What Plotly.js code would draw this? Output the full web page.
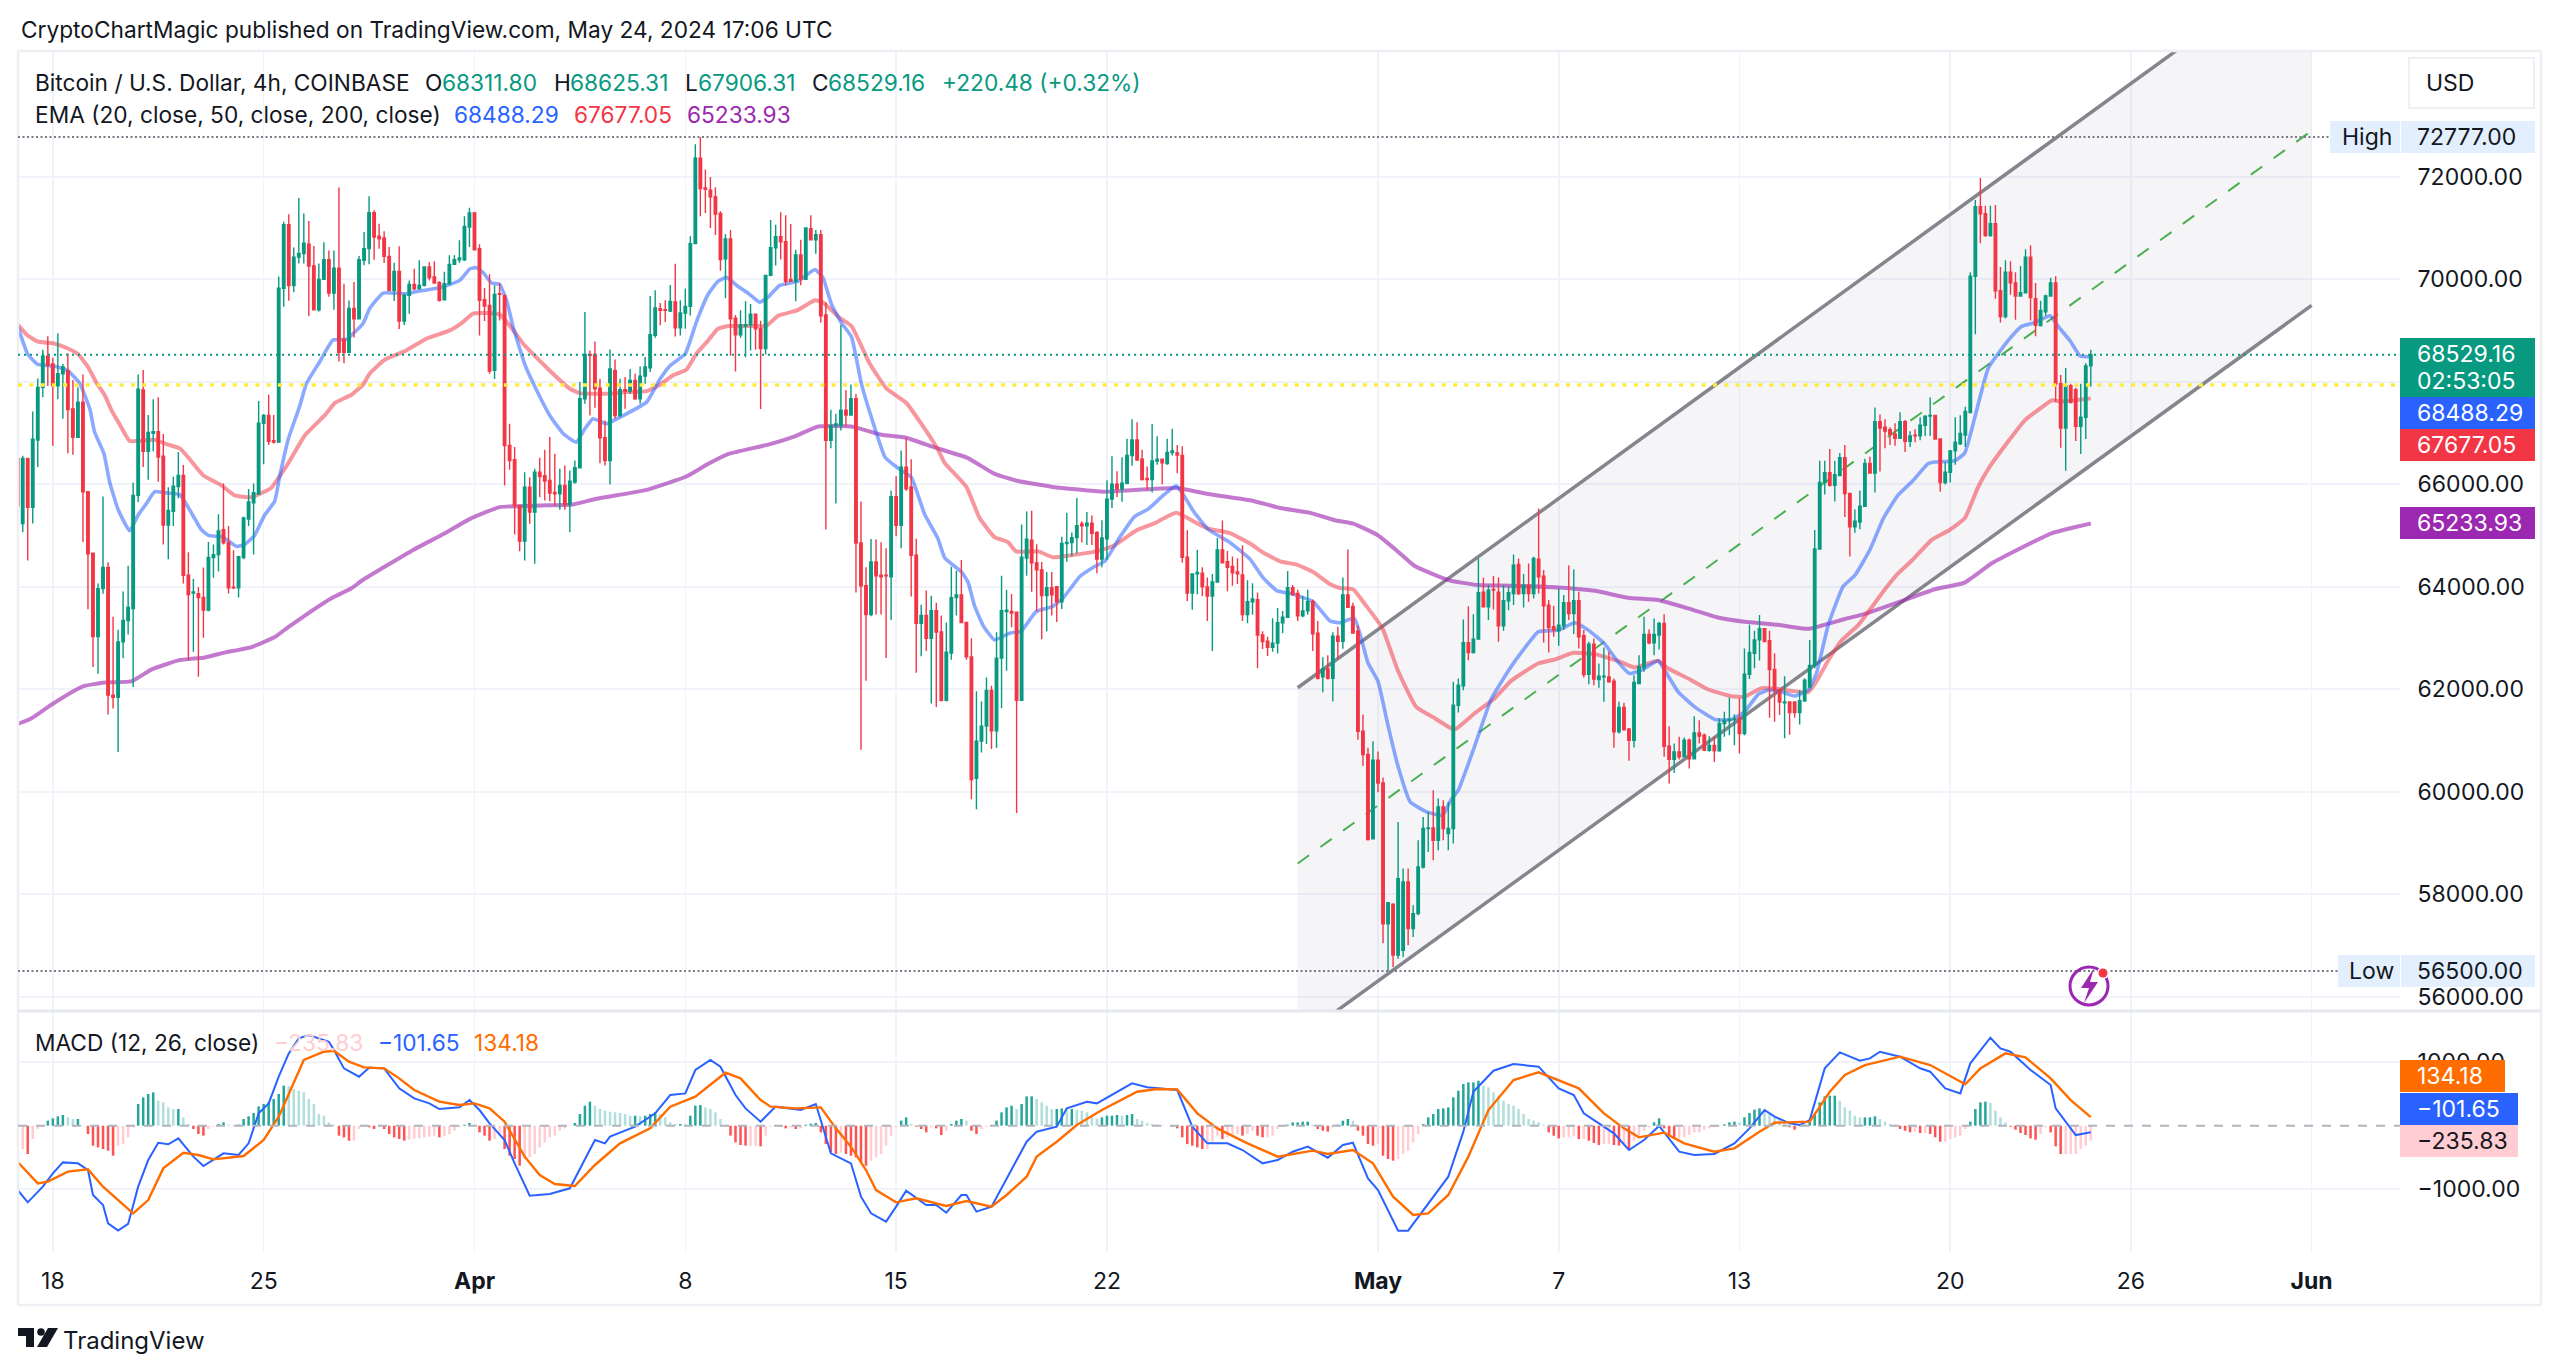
<!DOCTYPE html>
<html>
<head>
<meta charset="utf-8">
<script src="https://cdn.plot.ly/plotly-3.0.1.min.js"></script>
<style>html,body{margin:0;padding:0;background:#fff}#chart{width:2560px;height:1372px}</style>
</head>
<body>
<div id="chart"></div>
<script>
// 4h candles, first candle is 16 Mar 20:00 UTC
const opens = [66506,
65235,66506,65553,66866,67892,68498,68347,67921,68159,68217,
67473,66917,67603,65856,64657,63026,63964,64376,61885,61841,
62925,63343,63574,65784,67841,66643,66997,67026,66549,65206,
65473,65957,66173,64224,63878,63863,63791,63545,64571,64628,
65112,64859,63993,63979,64571,65322,65639,65812,67191,67343,
66852,66823,69827,71069,69877,70433,70505,70686,70260,69408,
70000,70383,69733,70217,68830,68578,69430,69228,70371,70599,
71302,70840,70807,70449,69785,70156,69186,69688,69902,69818,
69883,70241,70046,69941,69603,69915,70293,70384,70384,71022,
71296,70599,69603,69492,68223,69720,69675,66758,66478,65586,
64890,65944,65456,66237,66166,66075,65840,65814,65977,65606,
66042,66322,67670,68535,68535,67878,66908,66465,68223,67344,
67845,67819,68028,67670,68112,68275,68906,69427,69408,69382,
69557,69056,69342,69473,70697,72363,71784,71740,71610,71288,
70401,70787,69244,68919,69089,69112,69321,69035,68650,70077,
70617,70833,70733,69999,69961,70478,69999,70987,70771,70872,
69305,66859,67145,67145,67446,67353,67670,64853,64020,63457,
64483,64228,64228,64197,65756,65200,66335,65949,64614,63287,
63441,62994,63534,63117,61782,62708,63788,63842,63302,62631,
60262,60988,61281,61975,61188,62608,63518,63518,63503,61782,
64560,64907,64467,64329,63827,63981,64000,63709,64844,64865,
64959,65227,65190,65241,65060,64540,64938,65711,66000,65913,
66021,66563,66867,66491,66115,66094,66455,66491,66404,66621,
66614,66563,64576,63876,64251,64266,63998,63818,64092,64721,
64490,64396,64287,64230,63456,63709,63746,63059,62936,62821,
62900,63298,63406,63984,63868,63435,63529,63709,63095,62243,
62394,62214,63037,62936,63839,63615,63131,61181,60725,59079,
60617,60169,57423,57806,56810,56904,58239,57328,57620,58532,
59281,59294,59053,59704,59183,59281,61689,62066,62906,62718,
62978,63896,63610,63948,63896,63238,63727,63870,64436,63870,
64033,63870,64540,64208,63642,63219,63141,63238,63688,63479,
63727,63043,62294,62880,62190,62242,62242,62158,61168,61643,
61227,61005,62112,62418,63069,62906,63056,63284,60888,60634,
60778,60680,61005,60641,61149,61103,60810,60901,60797,61331,
61396,61409,61442,61136,62292,62701,62963,63180,62948,62385,
61984,61737,61752,61752,61544,61775,62045,62462,64738,66034,
66227,65980,66173,66520,65818,65170,65263,65571,66405,66220,
67223,67115,67068,66976,66899,67223,66837,66960,66945,67153,
67331,67346,66883,66034,66235,66652,66791,66960,67400,70062,
71420,71281,70857,71088,69777,69275,70139,69931,69676,69738,
70432,69622,69097,69368,69676,69931,67963,67099,67925,67848,
67130,67308,68311.80];
const highs = [66881,
66556,66520,67423,68065,68628,68888,68469,68946,68347,68556,
68036,67892,68145,65870,64657,64065,65762,64477,63415,63163,
63906,64412,66029,68145,68231,67351,67661,67697,66982,65942,
66145,66628,66376,64672,64152,63993,64376,64874,64823,65415,
66015,65184,64715,64607,65365,65906,66015,67625,67372,67747,
67351,70058,71126,71271,70621,71588,71285,71141,70650,70310,
70722,70563,70563,71791,69913,69589,69950,70455,70924,71621,
71348,71087,70937,70632,70326,70644,69720,69980,70208,70371,
70241,70332,70352,69961,70150,70469,70469,70762,71230,71400,
71315,70684,69831,70098,69883,69928,69707,67181,66726,65586,
66237,66140,66302,66517,66673,66921,66595,66302,66367,66270,
66465,67995,69362,68613,68789,68060,67246,68633,68438,68060,
68093,68249,68158,68301,68483,69675,69785,69538,69590,69889,
70306,69590,69818,70840,72637,72777,72142,72000,71800,71327,
70887,70964,69305,69398,69575,69521,69321,69190,70092,71157,
71065,71312,71250,71080,70579,70771,71018,71250,70964,70964,
69552,67454,67376,69112,67839,67947,67762,65663,64383,64930,
64923,64869,64753,65872,66157,66659,66914,66489,64938,63650,
63927,63827,63688,63441,63302,64390,64313,64522,63302,62994,
61960,61759,62230,62068,63110,64213,63943,63858,63503,65216,
65470,65486,64830,64483,64290,64290,64000,64974,65443,65060,
65732,65277,65458,65393,65082,65299,66079,66549,66253,66527,
66888,67271,67213,66672,66347,67177,66939,66491,66888,67083,
66766,66744,65104,64266,64721,64381,64179,64251,64952,65292,
64699,64591,64555,64808,64128,64071,63890,63131,63023,63384,
63587,63529,64309,64035,63941,63818,63941,63746,63334,62626,
62662,63110,63218,64179,64728,63688,63240,61506,60856,60986,
60783,60278,57835,57821,59411,58499,58499,57783,59053,59508,
59606,60029,59866,59834,59800,62145,62210,63362,63622,63466,
64553,64176,64033,64208,64182,64033,64000,64632,64553,64247,
64456,64586,65530,64326,63740,63629,63968,63837,64417,64339,
63902,63154,62926,62991,62503,62815,62731,62210,61754,61735,
61227,62275,62665,63414,63167,63382,63316,63466,61279,60940,
61071,61058,61038,61474,61396,61136,61084,61071,61429,61559,
61839,61513,61819,62793,63257,63141,63450,63180,63141,62701,
61984,62253,61752,61752,61984,62215,62963,65109,66459,66459,
66690,66459,66613,66767,65841,65510,65880,66497,66536,67500,
67361,67269,67115,67192,67408,67253,67037,67076,67308,67346,
67693,67346,66899,66436,66667,67308,67346,67516,70139,71551,
71976,71436,71436,71451,70240,70371,70355,70139,70263,70587,
70664,69931,69584,69699,70031,70062,68133,68272,67963,67886,
67963,68365,68625.31];
const lows = [65581,
65062,64513,65235,66340,67697,67921,66751,67661,67278,66607,
66578,66917,64874,63560,62434,62304,63863,61509,61625,60773,
62607,63069,62044,65654,66340,66087,66643,66051,64823,64535,
65184,65726,64065,62563,62730,62246,63004,63524,64174,64296,
64823,63870,63957,63791,64535,65184,64628,65812,66390,66765,
66794,66823,69466,69581,69747,70310,70310,69285,69394,69372,
69986,69661,69408,68397,68361,68578,68866,69228,70273,70293,
70384,70599,70319,69772,69577,69030,69108,69330,69785,69805,
69863,69980,69915,69570,69590,69896,70293,70319,70358,70632,
70566,68906,69186,68158,68054,69199,65977,66283,65020,64694,
64512,65228,64447,65749,65684,65671,65586,65502,65502,65065,
66009,66322,67572,67344,67494,66413,66368,65997,67279,67311,
67474,67767,67650,67572,67962,68190,68861,69102,69167,69362,
68887,68906,69037,69297,70684,71230,71296,71000,70864,70170,
69629,68511,68202,68858,68480,68611,68626,67469,68534,70061,
70270,70386,69884,69961,69575,69884,69999,70756,70501,69151,
65116,66705,65625,67052,67129,67338,63889,60818,62168,63426,
63457,63457,62608,63349,64984,64753,65872,63811,62322,62646,
62747,61721,61651,61759,61759,62577,63441,63287,62577,59853,
59660,60764,60933,60833,60856,61628,62361,63210,59583,61782,
64213,63904,63518,62978,63133,63441,63312,63565,64490,64598,
64649,64865,64815,64815,64266,64381,64526,65537,65754,65660,
66000,66361,66455,66072,65891,65841,66383,66000,66383,66563,
66216,64468,63724,63550,63854,63818,63334,62748,64092,64454,
63912,64020,64056,63334,63290,63456,62409,62785,62647,62734,
62698,63095,63406,63818,63334,63406,63456,62748,62192,61939,
62192,61759,62590,62792,63601,63081,61014,60509,59049,59079,
59989,57041,56500,56578,56740,56774,57002,57165,57588,58500,
58825,58662,58857,59053,58857,58988,61546,61982,62568,62698,
62972,63596,63349,63557,62926,63141,63544,63642,63837,63596,
63707,63772,63870,62913,62718,63024,62848,63154,63349,63076,
62796,62229,62099,62080,62028,61754,62125,60856,61136,61188,
60602,60862,62099,62340,62880,62665,62776,60680,60159,60367,
60628,60680,60452,60628,60940,60797,60778,60582,60778,61071,
61103,60908,60745,61100,62200,62408,62562,62925,61444,61366,
61497,61042,61112,61444,61312,61752,62045,62408,64738,65803,
65957,65664,66173,65363,64591,65054,65124,65571,66204,65841,
66250,66706,66767,66752,66883,66628,66729,66821,66860,66945,
66945,66868,65857,65996,66034,66382,66767,66729,67385,68928,
70703,70834,70834,69622,69159,69236,69699,69213,69661,69723,
69198,68889,69082,69290,69661,67616,66713,66266,67578,66845,
66590,66883,67906.31];
const closes = [65581,
66506,65553,66881,67892,68498,68325,67921,68159,68290,67459,
66917,67603,65856,64643,63026,63964,64376,61885,61841,62925,
63343,63596,65784,67856,66643,67011,67026,66534,65206,65488,
65964,66173,64224,63849,63899,63791,63545,64571,64628,65091,
64859,63979,63979,64585,65343,65654,65834,67191,67343,66838,
66823,69827,71069,69877,70433,70505,70708,70260,69408,70000,
70383,69733,70217,68578,68578,69430,69228,70383,70599,71302,
70827,70794,70449,69785,70156,69186,69688,69902,69818,69883,
70241,70033,69928,69590,69915,70293,70384,70417,71035,71296,
70579,69590,69479,68210,69707,69707,66758,66465,65586,64890,
65944,65456,66237,66153,66062,65827,65814,65977,65606,66062,
66322,67670,68535,68516,67865,66908,66465,68249,67344,67845,
67819,68028,67670,68112,68288,68919,69440,69395,69395,69570,
69056,69342,69473,70697,72363,71771,71758,71610,71273,70386,
70787,69228,68919,69112,69112,69321,69035,68650,70077,70617,
70833,70733,69961,69961,70478,69999,71003,70771,70872,69290,
66859,67145,67176,67446,67353,67670,64853,64020,63457,64483,
64213,64197,64213,65756,65200,66335,65910,64614,63287,63441,
62994,63534,63117,61782,62724,63788,63842,63302,62631,60239,
60988,61281,61975,61188,62608,63534,63542,63487,61782,64575,
64930,64467,64329,63827,63981,63842,63709,64844,64865,64959,
65190,65190,65241,65046,64540,64952,65711,66000,65913,66021,
66563,66867,66477,66094,66094,66455,66491,66419,66621,66650,
66570,64576,63876,64251,64280,63998,63818,64092,64721,64468,
64381,64273,64251,63456,63709,63760,63059,62929,62821,62900,
63298,63406,63984,63854,63435,63529,63709,63081,62214,62394,
62214,63037,62936,63839,63601,63095,61181,60725,59064,60617,
60169,57423,57835,56810,58304,58239,57328,57620,58532,59281,
59294,59053,59704,59281,59281,61689,62080,62906,62718,62978,
63883,63610,63935,63935,63238,63727,63883,64423,63870,64033,
63870,64553,64195,63629,63206,63154,63251,63688,63479,63727,
63024,62288,62880,62197,62255,62255,62145,61168,61643,61214,
61005,62132,62438,63069,62906,63069,63284,60888,60634,60778,
60680,61005,60641,61149,61084,60810,60901,60797,61331,61396,
61409,61422,61136,62292,62717,62963,63180,62933,62385,61984,
61752,61752,61544,61544,61775,62176,62462,64738,66034,66227,
65980,66189,66520,65818,65170,65278,65571,66405,66220,67223,
67099,67037,66976,66899,67223,66837,66945,66945,67153,67331,
67346,66883,66034,66235,66652,66821,66991,67423,70062,71420,
71281,70857,71088,69777,69275,70139,69931,69676,69738,70432,
69645,69105,69391,69676,69931,67963,67099,67925,67601,67130,
67308,68311,68529.16];

// EMA readings: bar number (0 = 17 Mar 00:00 UTC) and price
const ema20Bars = [-1,1,3,6.4,9,11.4,13.4,14.3,16.2,17.3,19,21.3,23,24.6,26.3,28.3,31.3,33,35.6,37,39.9,42.6,44.2,46.2,48.2,50.2,51.2,52.9,55.2,56.5,59.2,61.8,64.5,67.8,69.1,71.8,76.4,79.1,83.1,87.1,89.1,90.4,91.8,93.4,95,96.4,97.7,100.1,102.4,105,107.7,110.3,112,113.6,116.3,120.3,124.3,127,129,132,134.2,136.5,138.5,140.2,142.2,144.8,146.8,148.5,150.8,154.4,157.8,159.4,161.1,163.1,165.1,167.1,169.1,171.8,174.4,177,179.7,182.3,183.7,187,188.3,189.6,191.3,193.6,196.6,198.9,201.9,205.2,207.3,210.6,213.3,215.6,218.6,221.5,224.2,227.2,229.8,231.5,233.2,236.2,240.5,244.5,247.1,249.8,253.1,257.1,260.4,262.4,265.3,268,270,272,274,276.4,279.7,282.9,284.5,286,289.2,292.6,296.5,298.9,301.9,305.9,309.2,311.9,315.1,317.8,320.1,322.5,325.8,327.1,329.8,333.1,337.1,340.4,343,345.8,347.8,350.4,353,355.7,357.4,359.7,362.7,365,368,370.7,373.6,376.6,379.6,380.9,384.9,386.9,388.9,391.6,395.6,398.2,400.9,403.9,405.5,407.9,409.9,412];
const ema20Values = [69083,68541,68340,68303,68217,67964,67459,67025,66592,66051,65509,65091,65401,65618,65856,65834,65798,65545,65112,65004,64968,64787,64823,65004,65401,65668,66159,66881,67531,67964,68397,68816,68830,69140,69427,69733,69720,69772,69837,69980,70208,70228,70124,69928,69902,69590,69069,68320,67832,67344,66986,66823,67084,67279,67181,67376,67604,68060,68320,68548,69167,69700,69961,70038,69884,69707,69552,69653,69884,69961,70193,70038,69521,69151,68881,67955,67299,66527,66312,66142,65409,64946,64560,64290,64097,63634,63248,62963,63094,63133,63518,63617,63782,64201,64381,64504,64974,65371,65516,65783,65971,65754,65480,65118,64865,64540,64179,63926,63854,63709,63334,63298,63384,62517,62156,61289,60490,59801,59606,59541,59834,60029,60875,61819,62438,62763,63121,63154,63297,63154,62893,62535,62308,62373,62555,62373,61949,61656,61409,61409,61559,61906,61984,61945,61868,61984,62331,63257,64013,64221,64723,65340,65788,66073,66405,66436,66459,66613,67308,68272,68812,69082,69159,69291,69082,68797,68503,68488.29];
const ema50Bars = [-1,1,3,6.4,9,11,13,14.7,16.3,17.7,19.3,21.3,23,26.3,29,31.3,33,36,39.6,42.2,45.6,49.5,51.2,52.9,56.2,60.2,62.2,65.5,67.8,69.1,72.1,76.4,80.4,85.1,87.7,89.7,92.3,95,97,99.7,103.6,106.7,109,111,116.6,120.3,124.3,127,129.5,132.2,134.2,136.5,138.5,140.5,145.8,148.1,150.5,154.4,157.8,159.4,162.8,165.1,168.7,172,176,179,182.3,183.7,188,190.6,193.6,196.3,197.9,202.3,205.2,208.6,213.6,217.2,221.9,225.2,229.8,233.5,236.2,240.5,244.5,247.1,250.5,253.8,257.1,260.4,262.4,265.1,267.4,270.8,274,277.6,281.4,285.2,289.2,293.2,296.5,301.9,305.2,308.9,313.2,317.8,321.1,325.8,327.8,331.8,335.8,340.4,343,346.4,349.7,353,355.7,357,359.7,362.3,365.7,371,373.6,376.3,380.3,383.6,386.9,389.6,391.6,395.6,398.9,402.2,404.2,406.2,412];
const ema50Values = [69119,68903,68787,68744,68650,68542,68289,67978,67747,67444,67170,66845,66845,66867,66773,66700,66520,66173,65979,65784,65747,65928,66159,66412,66953,67350,67588,67747,67945,68158,68431,68613,68841,69004,69167,69330,69342,69316,69102,68744,68353,68060,67865,67780,67767,67800,67819,67949,68125,68236,68548,68800,69035,69089,69089,69089,69290,69398,69591,69552,69244,69089,68364,67878,67592,67183,66682,66412,65949,65347,64969,64869,64691,64691,64576,64612,64685,64793,65104,65227,65443,65263,65133,65046,64844,64670,64497,64432,64287,64056,63977,63948,63659,63204,62355,61657,61429,61214,61526,61819,62164,62503,62581,62711,62685,62555,62425,62555,62405,62210,61995,61865,61852,62022,62006,61960,61945,62099,62562,62948,63257,63951,64260,64507,64916,65093,65340,65957,66304,66844,67253,67500,67639,67616,67677.05];
const ema200Bars = [-1,1.7,5.7,11,12.3,16.3,21.6,25.6,31,36.3,40.2,45.6,50.2,52.9,57.5,61.5,65.5,67.8,77.8,83.9,89.1,95,103,109.6,114.3,124.3,132.2,136.5,140.5,148.5,153.8,158.5,165.1,171.1,175.8,181.7,188.3,193.6,198.3,205.2,215.2,219.8,229.8,236.5,245.2,250.5,256.5,261.4,265.2,269.9,274,277.3,284,289.9,296.5,305.9,313.2,319.8,325.8,331.8,337.7,343,349.7,355.7,363,366.3,374.3,380.9,386.9,392.2,398.2,404.3,412];
const ema200Values = [61322,61430,61697,62008,62065,62130,62152,62383,62563,62621,62715,62823,63018,63213,63524,63776,63971,64137,64720,65033,65326,65554,65586,65606,65717,65892,66153,66395,66589,66775,66937,67129,67129,66967,66914,66720,66512,66204,66065,65949,65855,65877,65927,65805,65675,65537,65443,65299,65227,65010,64684,64404,64130,64033,64020,63987,63922,63785,63740,63577,63401,63318,63257,63179,63372,63450,63720,63951,64082,64453,64761,65047,65233.93];

// MACD readings
const macdBars = [-1,1,4,6,8,11,13,14,16,17,19,21,23,25,27,29,31,34,36,38,40,43,45,47,49,51,53,55,57,61,62,64,67,69,72,75,78,81,83,87,89,91,93,96,98,101,105,109,112,114,116,117,122,126,129,132,134,137,139,142,144,147,150,155,158,161,165,167,169,172,174,176,180,182,184,187,188,190,193,197,200,202,206,208,212,214,221,224,230,233,236,240,243,247,250,253,256,260,263,265,268,270,274,276,280,284,287,289,293,297,302,306,309,311,314,317,320,323,326,330,333,337,341,344,347,349,352,354,356,359,362,366,368,370,374,378,380,383,386,388,392,394,396,400,404,405,409,412];
const macdValues = [-1011,-1205,-959,-749,-577,-592,-697,-1090,-1247,-1535,-1650,-1545,-959,-540,-268,-293,-199,-487,-634,-540,-435,-461,-278,194,351,771,1137,1373,1425,1320,1189,901,770,912,901,587,430,351,262,288,403,246,37,-225,-592,-1100,-1074,-985,-540,-225,-278,-173,-16,194,482,508,875,1033,927,482,272,63,299,246,341,-435,-592,-1116,-1378,-1509,-1273,-1022,-1247,-1247,-1368,-1090,-1090,-1352,-1273,-697,-252,-94,-16,273,377,351,666,603,561,-16,-278,-278,-383,-592,-540,-409,-330,-503,-304,-268,-828,-1012,-1650,-1650,-1223,-802,-94,534,864,969,928,587,482,194,37,-121,-383,-225,-5,-409,-461,-445,-278,-42,246,142,37,10,89,901,1153,1022,1058,1163,1085,902,849,587,508,980,1383,1216,1163,875,639,272,-147,-101.65];
const signalBars = [-1,3,5,9,13,16,22,25,28,32,35,38,44,48,51,54,56,60,62,65,68,72,75,78,83,87,90,93,96,100,103,106,110,114,119,125,129,134,140,143,147,149,154,159,162,165,168,170,174,178,184,188,193,196,200,202,206,210,215,222,226,230,234,238,244,250,257,260,265,269,273,277,280,284,288,292,297,302,306,310,315,319,322,327,331,337,341,346,349,356,360,363,367,374,380,387,390,395,399,404,408,412];
const signalValues = [-571,-907,-880,-723,-687,-959,-1378,-1169,-671,-425,-461,-530,-477,-225,141,666,1033,1163,1179,1006,917,901,744,561,377,325,351,272,63,-487,-775,-917,-949,-618,-278,-42,299,456,833,744,404,299,272,288,-42,-330,-697,-1012,-1205,-1142,-1263,-1184,-1273,-1090,-802,-487,-252,10,246,534,576,571,194,-42,-278,-487,-393,-445,-383,-592,-1116,-1404,-1378,-1090,-487,246,718,838,718,587,194,-42,-183,-110,-278,-409,-356,-94,47,63,534,796,953,1085,953,650,901,1137,1074,744,403,134.18];
const histogram = [-367,
-367,-445,-210,-52,-16,79,115,147,168,131,
105,105,5,-131,-314,-341,-367,-393,-472,-314,
-288,-183,-26,341,445,498,524,393,367,288,
262,262,131,26,-52,-131,-157,-52,-16,26,
52,16,10,16,105,147,199,304,341,367,
419,498,629,618,576,550,524,419,341,183,
157,52,16,-157,-183,-236,-236,-52,-16,-26,
-52,-26,-52,-131,-183,-210,-236,-220,-210,-199,
-183,-173,-157,-183,-157,-131,-79,-26,16,42,
0,-105,-157,-236,-210,-157,-367,-472,-524,-629,
-524,-498,-445,-341,-262,-183,-157,-79,-42,-10,
42,183,314,377,314,262,236,220,210,199,
183,157,157,147,157,183,210,183,131,52,
26,26,16,157,314,325,288,262,210,105,
16,-157,-262,-304,-314,-314,-314,-325,-157,-16,
0,-16,-42,-26,-52,-42,16,31,42,-105,
-288,-419,-445,-419,-445,-472,-498,-576,-629,-550,
-498,-445,-314,-157,-26,79,131,26,-16,-52,
-105,-26,-42,-147,-79,26,79,105,79,-79,
-131,-52,-16,-16,79,210,288,314,262,341,
461,461,419,367,314,262,262,272,262,262,
252,236,210,157,115,131,157,157,168,157,
168,183,105,79,42,26,16,10,0,-16,
-42,-183,-288,-314,-341,-367,-367,-262,-157,-210,
-183,-131,-131,-157,-131,-79,-157,-183,-183,-157,
-52,-16,16,52,52,63,63,16,-52,-79,
-94,-26,16,79,105,79,-79,-157,-288,-314,
-288,-472,-524,-550,-524,-445,-393,-262,-131,26,
131,183,262,272,288,445,550,655,681,681,
707,629,603,524,472,393,341,314,262,183,
105,79,52,16,-105,-157,-199,-183,-183,-157,
-210,-210,-236,-272,-304,-288,-288,-304,-314,-314,
-367,-236,-157,-79,-26,52,115,-42,-157,-210,
-199,-183,-147,-105,-105,-63,-42,-26,-10,21,
52,63,52,131,199,252,272,236,183,131,
94,42,-26,-63,-16,16,79,183,367,461,
472,472,393,288,236,157,131,131,131,147,
105,63,26,-10,-52,-79,-105,-94,-115,-115,
-131,-183,-252,-252,-210,-183,-157,-52,63,262,
367,377,356,236,131,52,-16,-63,-115,-147,
-199,-220,-131,-26,-105,-325,-445,-445,-445,-445,
-367,-314,-235.83];

// Drawn channel: bar number and price at its two ends
const channelBars = [254, 456];
const channelUpper = [62029, 76381];
const channelMiddle = [58600, 72900];
const channelLower = [55171, 69492];

const priceTicks = [56000,58000,60000,62000,64000,66000,68000,70000,72000];
const macdTicks = [-1000,1000];
const timeTickBars = [6,48,90,132,174,216,270,306,342,384,420,456];
const timeTickLabels = ['18','25','<b>Apr</b>','8','15','22','<b>May</b>','7','13','20','26','<b>Jun</b>'];

const allTimeHigh = 72777, allTimeLow = 56500, lastPrice = 68529.16, yellowLevel = 67938;

const GREEN='#089981', RED='#F23645', INK='#131722', GRID='#F0F3FA', FONT='Inter, Roboto, sans-serif';
const W=2560,H=1372;
const px=x=>x/W, py=y=>1-y/H;
const T0=Date.UTC(2024,2,17), STEP=4*3600*1000;
const when=k=>T0+k*STEP;
const barTimes=opens.map((_,i)=>when(i-1));
const xLeft=when(-0.94), xRight=when(473.6);

const ema=(bars,vals,color,width)=>({type:'scatter',mode:'lines',x:bars.map(when),y:vals,xaxis:'x',yaxis:'y',
  line:{color,width,shape:'spline',smoothing:0.4},hoverinfo:'skip',showlegend:false});
const channelFill={type:'scatter',mode:'lines',xaxis:'x',yaxis:'y',
  x:[when(channelBars[0]),when(channelBars[1]),when(channelBars[1]),when(channelBars[0]),when(channelBars[0])],
  y:[channelUpper[0],channelUpper[1],channelLower[1],channelLower[0],channelUpper[0]],
  fill:'toself',fillcolor:'rgba(140,146,170,0.09)',line:{width:0,color:'rgba(0,0,0,0)'},hoverinfo:'skip',showlegend:false};
const chanLine=(vals,color,width,dash)=>({type:'scatter',mode:'lines',xaxis:'x',yaxis:'y',x:channelBars.map(when),y:vals,
  line:{color,width,dash},hoverinfo:'skip',showlegend:false});

const histColors=histogram.map((v,i)=>{const p=i?histogram[i-1]:v;
  return v>=0?(v>=p?'#26A69A':'#B2DFDB'):(v<p?'#FF5252':'#FFCDD2');});

const data=[
  channelFill,
  chanLine(channelUpper,'#85868D',3.5,'solid'),
  chanLine(channelLower,'#85868D',3.5,'solid'),
  chanLine(channelMiddle,'#4CAF50',2,'14px,14px'),
  ema(ema200Bars,ema200Values,'rgba(156,39,176,0.62)',4),
  ema(ema50Bars,ema50Values,'rgba(242,54,69,0.52)',4),
  ema(ema20Bars,ema20Values,'rgba(41,98,255,0.55)',3.6),
  {type:'candlestick',x:barTimes,open:opens,high:highs,low:lows,close:closes,xaxis:'x',yaxis:'y3',
    increasing:{line:{color:GREEN,width:1.4},fillcolor:GREEN},
    decreasing:{line:{color:RED,width:1.4},fillcolor:RED},
    whiskerwidth:0,hoverinfo:'skip',showlegend:false},
  {type:'bar',x:barTimes,y:histogram,xaxis:'x2',yaxis:'y2',width:STEP*0.5,marker:{color:histColors,line:{width:0}},hoverinfo:'skip',showlegend:false},
  {type:'scatter',mode:'lines',x:macdBars.map(when),y:macdValues,xaxis:'x2',yaxis:'y2',line:{color:'#2962FF',width:2},hoverinfo:'skip',showlegend:false},
  {type:'scatter',mode:'lines',x:signalBars.map(when),y:signalValues,xaxis:'x2',yaxis:'y2',line:{color:'#FF6D00',width:2.4},hoverinfo:'skip',showlegend:false}
];

// ---- page furniture (shapes / text)
const rect=(x0,y0,x1,y1,fill,line)=>({type:'rect',xref:'paper',yref:'paper',x0:px(x0),x1:px(x1),y0:py(y0),y1:py(y1),
  fillcolor:fill,line:line||{width:0},layer:'above'});
const seg=(x0,y0,x1,y1,color,width)=>({type:'line',xref:'paper',yref:'paper',x0:px(x0),x1:px(x1),y0:py(y0),y1:py(y1),
  line:{color,width},layer:'above'});
const level=(v,x1,color,width,dash)=>({type:'line',xref:'paper',yref:'y',x0:px(18),x1:px(x1),y0:v,y1:v,line:{color,width,dash},layer:'above'});
const pathOf=pts=>'M '+pts.map(p=>px(p[0])+' '+py(p[1])).join(' L ')+' Z';
const poly=(pts,fill)=>({type:'path',xref:'paper',yref:'paper',path:pathOf(pts),fillcolor:fill,line:{width:0},layer:'above'});
const circle=(cx,cy,r,fill,line)=>({type:'circle',xref:'paper',yref:'paper',x0:px(cx-r),x1:px(cx+r),y0:py(cy-r),y1:py(cy+r),fillcolor:fill,line,layer:'above'});

const FRAME='#EDEFF4';
const shapes=[
  seg(18,51,2541,51,FRAME,2.5), seg(18,51,18,1305,FRAME,2.5), seg(2541,51,2541,1305,FRAME,2.5), seg(18,1305,2541,1305,FRAME,2.5),
  seg(18,1011,2541,1011,'#E6E8EF',3),
  level(allTimeHigh,2330,'#787B86',2,'2px,2.5px'),
  level(allTimeLow,2338,'#787B86',2,'2px,2.5px'),
  level(lastPrice,2400,GREEN,2,'2px,4px'),
  level(yellowLevel,2400,'#FFEB3B',3.5,'4px,7.3px'),
  {type:'line',xref:'paper',yref:'y2',x0:px(18),x1:px(2400),y0:0,y1:0,line:{color:'#B2B5BE',width:2,dash:'9px,9px'},layer:'above'},
  rect(2330,121,2400,153,'#E3EFFD'), rect(2401,121,2535,153,'#E3EFFD'),
  rect(2338,955,2400,987,'#E3EFFD'), rect(2401,955,2535,987,'#E3EFFD'),
  rect(2400,338,2535,397,GREEN), rect(2400,397,2535,429,'#2962FF'), rect(2400,429,2535,461,RED), rect(2400,507,2535,539,'#9C27B0'),
  rect(2400,1060,2505,1092,'#FF6D00'), rect(2400,1093,2518,1125,'#2962FF'), rect(2400,1125,2518,1157,'#FFCDD2'),
  rect(2409,58,2534,108,'#FFFFFF',{color:'#EEF0F5',width:2}),
  circle(2089,986,19,'rgba(0,0,0,0)',{color:'#9C27B0',width:3}),
  poly([[2094,968],[2081,988],[2089,988],[2084,1003],[2098,982],[2090,982]],'#9C27B0'),
  circle(2103,973,6,'#FFFFFF',{width:0}), circle(2103,973,4.5,RED,{width:0}),
  rect(18,1328,34,1336,INK), rect(26,1328,34,1347,INK), circle(41,1332,3.8,INK,{width:0}),
  poly([[48,1328],[58,1328],[47,1347],[37,1347]],INK)
];

const note=(x,y,text,color,size,opts)=>Object.assign({xref:'paper',yref:'paper',x:px(x),y:py(y),text,showarrow:false,
  xanchor:'left',yanchor:'middle',font:{family:FONT,size:size||22.7,color:color||INK},borderpad:0},opts||{});
const annotations=[
  note(20,30,'CryptoChartMagic published on TradingView.com, May 24, 2024 17:06 UTC',INK,22.7),
  note(34,82,'Bitcoin / U.S. Dollar, 4h, COINBASE'),
  note(424,82,'O'),note(441,82,'68311.80',GREEN),
  note(553,82,'H'),note(569,82,'68625.31',GREEN),
  note(684,82,'L'),note(697,82,'67906.31',GREEN),
  note(811,82,'C'),note(827,82,'68529.16',GREEN),
  note(941,82,'+220.48 (+0.32%)',GREEN),
  note(34,114,'EMA (20, close, 50, close, 200, close)'),
  note(453,114,'68488.29','#2962FF'),note(573,114,'67677.05',RED),note(686,114,'65233.93','#9C27B0'),
  note(34,1042,'MACD (12, 26, close)'),
  note(273,1042,'−235.83','#FFCDD2'),note(377,1042,'−101.65','#2962FF'),note(473,1042,'134.18','#FF6D00'),
  note(2425,83,'USD',INK,23),
  note(2341,137,'High',INK,23),note(2416,137,'72777.00',INK,23),
  note(2348,971,'Low',INK,23),note(2416,971,'56500.00',INK,23),
  note(2416,354,'68529.16','#FFFFFF',23),note(2416,381,'02:53:05','#FFFFFF',23),
  note(2416,413,'68488.29','#FFFFFF',23),note(2416,445,'67677.05','#FFFFFF',23),note(2416,523,'65233.93','#FFFFFF',23),
  note(2416,1076,'134.18','#FFFFFF',23),note(2416,1109,'−101.65','#FFFFFF',23),note(2416,1141,'−235.83',INK,23),
  note(62,1340,'TradingView',INK,24)
];

const domX=[px(18),px(2400)];
const timeTicks=timeTickBars.map(when);
const mainRange=[55720,74457];
const layout={
  width:W,height:H,margin:{l:0,r:0,t:0,b:0,pad:0},paper_bgcolor:'#FFFFFF',plot_bgcolor:'#FFFFFF',showlegend:false,
  font:{family:FONT,color:INK,size:23},barmode:'overlay',boxgap:0.3,
  xaxis:{type:'date',domain:domX,range:[xLeft,xRight],anchor:'y',tickmode:'array',tickvals:timeTicks,ticktext:timeTickLabels,showticklabels:false,
    showgrid:true,gridcolor:GRID,gridwidth:1.6,zeroline:false,showline:false,ticks:'',rangeslider:{visible:false}},
  xaxis2:{type:'date',domain:domX,range:[xLeft,xRight],anchor:'y2',matches:'x',tickmode:'array',tickvals:timeTicks,ticktext:timeTickLabels,
    showgrid:true,gridcolor:GRID,gridwidth:1.6,zeroline:false,showline:false,ticks:'outside',ticklen:8,tickcolor:'rgba(0,0,0,0)',
    tickfont:{family:FONT,size:23,color:INK},tickangle:0},
  yaxis:{domain:[py(1011),py(51)],range:mainRange,anchor:'x',side:'right',tickmode:'array',tickvals:priceTicks,tickformat:'.2f',
    showgrid:true,gridcolor:GRID,gridwidth:2,zeroline:false,showline:false,ticks:'outside',ticklen:12,tickcolor:'rgba(0,0,0,0)',
    tickfont:{family:FONT,size:23,color:INK}},
  yaxis3:{overlaying:'y',anchor:'x',side:'right',range:mainRange,matches:'y',showgrid:false,zeroline:false,showticklabels:false,ticks:'',showline:false},
  yaxis2:{domain:[py(1252),py(1011)],range:[-1986,1803],anchor:'x2',side:'right',tickmode:'array',tickvals:macdTicks,tickformat:'.2f',
    showgrid:true,gridcolor:GRID,gridwidth:2,zeroline:false,showline:false,ticks:'outside',ticklen:12,tickcolor:'rgba(0,0,0,0)',
    tickfont:{family:FONT,size:23,color:INK}},
  shapes,annotations
};
Plotly.newPlot('chart',data,layout,{displayModeBar:false,staticPlot:true,responsive:false});
</script>
</body>
</html>
